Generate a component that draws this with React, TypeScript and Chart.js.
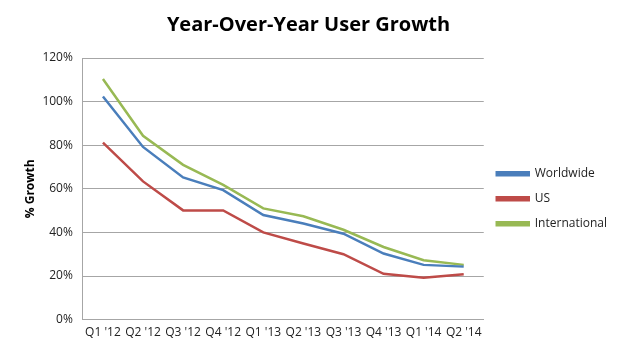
import React, { useEffect, useRef } from "react";
import { Chart, registerables } from "chart.js";

Chart.register(...registerables);

const categories = ["Q1 '12", "Q2 '12", "Q3 '12", "Q4 '12", "Q1 '13", "Q2 '13", "Q3 '13", "Q4 '13", "Q1 '14", "Q2 '14"];
const worldwide = [102.3, 79.2, 65.2, 59.4, 48.0, 44.1, 39.4, 30.3, 25.1, 24.3];
const us = [81.2, 63.4, 50.1, 50.1, 40.0, 34.9, 30.0, 21.0, 19.2, 20.8];
const international = [110.4, 84.3, 71.0, 61.8, 51.0, 47.4, 41.2, 33.3, 27.2, 25.1];

const FONT = "'Open Sans', 'DejaVu Sans', sans-serif";

export default function App() {
  const ref = useRef<HTMLCanvasElement | null>(null);
  useEffect(() => {
    if (!ref.current) return;
    const chart = new Chart(ref.current, {
      type: "line",
      data: {
        labels: categories,
        datasets: [
          { label: "Worldwide", data: worldwide, borderColor: "#4a7ebb", backgroundColor: "#4a7ebb", borderWidth: 2.5, pointRadius: 0, tension: 0 },
          { label: "US", data: us, borderColor: "#be4b48", backgroundColor: "#be4b48", borderWidth: 2.5, pointRadius: 0, tension: 0 },
          { label: "International", data: international, borderColor: "#98b954", backgroundColor: "#98b954", borderWidth: 2.5, pointRadius: 0, tension: 0 },
        ],
      },
      options: {
        animation: false,
        responsive: false,
        layout: { padding: { left: 0, right: 3, top: 6, bottom: 7 } },
        plugins: {
          title: {
            display: true,
            text: "Year-Over-Year User Growth",
            color: "#000",
            font: { family: FONT, size: 20, weight: "bold" },
            padding: { top: 7, bottom: 21 },
          },
          legend: {
            position: "right",
            fullSize: false,
            title: { display: true, text: "", padding: 4, font: { size: 10 } },
            labels: {
              boxWidth: 32,
              boxHeight: 3,
              padding: 13,
              color: "#222",
              font: { family: FONT, size: 12 },
            },
          },
          tooltip: { enabled: false },
        },
        scales: {
          x: {
            offset: true,
            grid: { display: false, drawTicks: false },
            border: { display: true, color: "#a6a6a6" },
            ticks: { color: "#222", font: { family: FONT, size: 12 }, maxRotation: 0, autoSkip: false, padding: 6 },
          },
          y: {
            min: 0,
            max: 120,
            grid: { color: "#a6a6a6", drawTicks: false },
            border: { display: true, color: "#a6a6a6" },
            ticks: { stepSize: 20, color: "#222", font: { family: FONT, size: 12 }, padding: 10, callback: (v: any) => v + "%" },
            title: { display: true, text: "% Growth", color: "#000", font: { family: FONT, size: 12, weight: "bold" }, padding: { top: 23, bottom: -5 } },
          },
        },
      },
    });
    return () => chart.destroy();
  }, []);
  return (
    <div style={{ position: "fixed", left: 0, top: 0, width: 620, height: 353, background: "#fff" }}>
      <canvas ref={ref} width={620} height={353} />
    </div>
  );
}
